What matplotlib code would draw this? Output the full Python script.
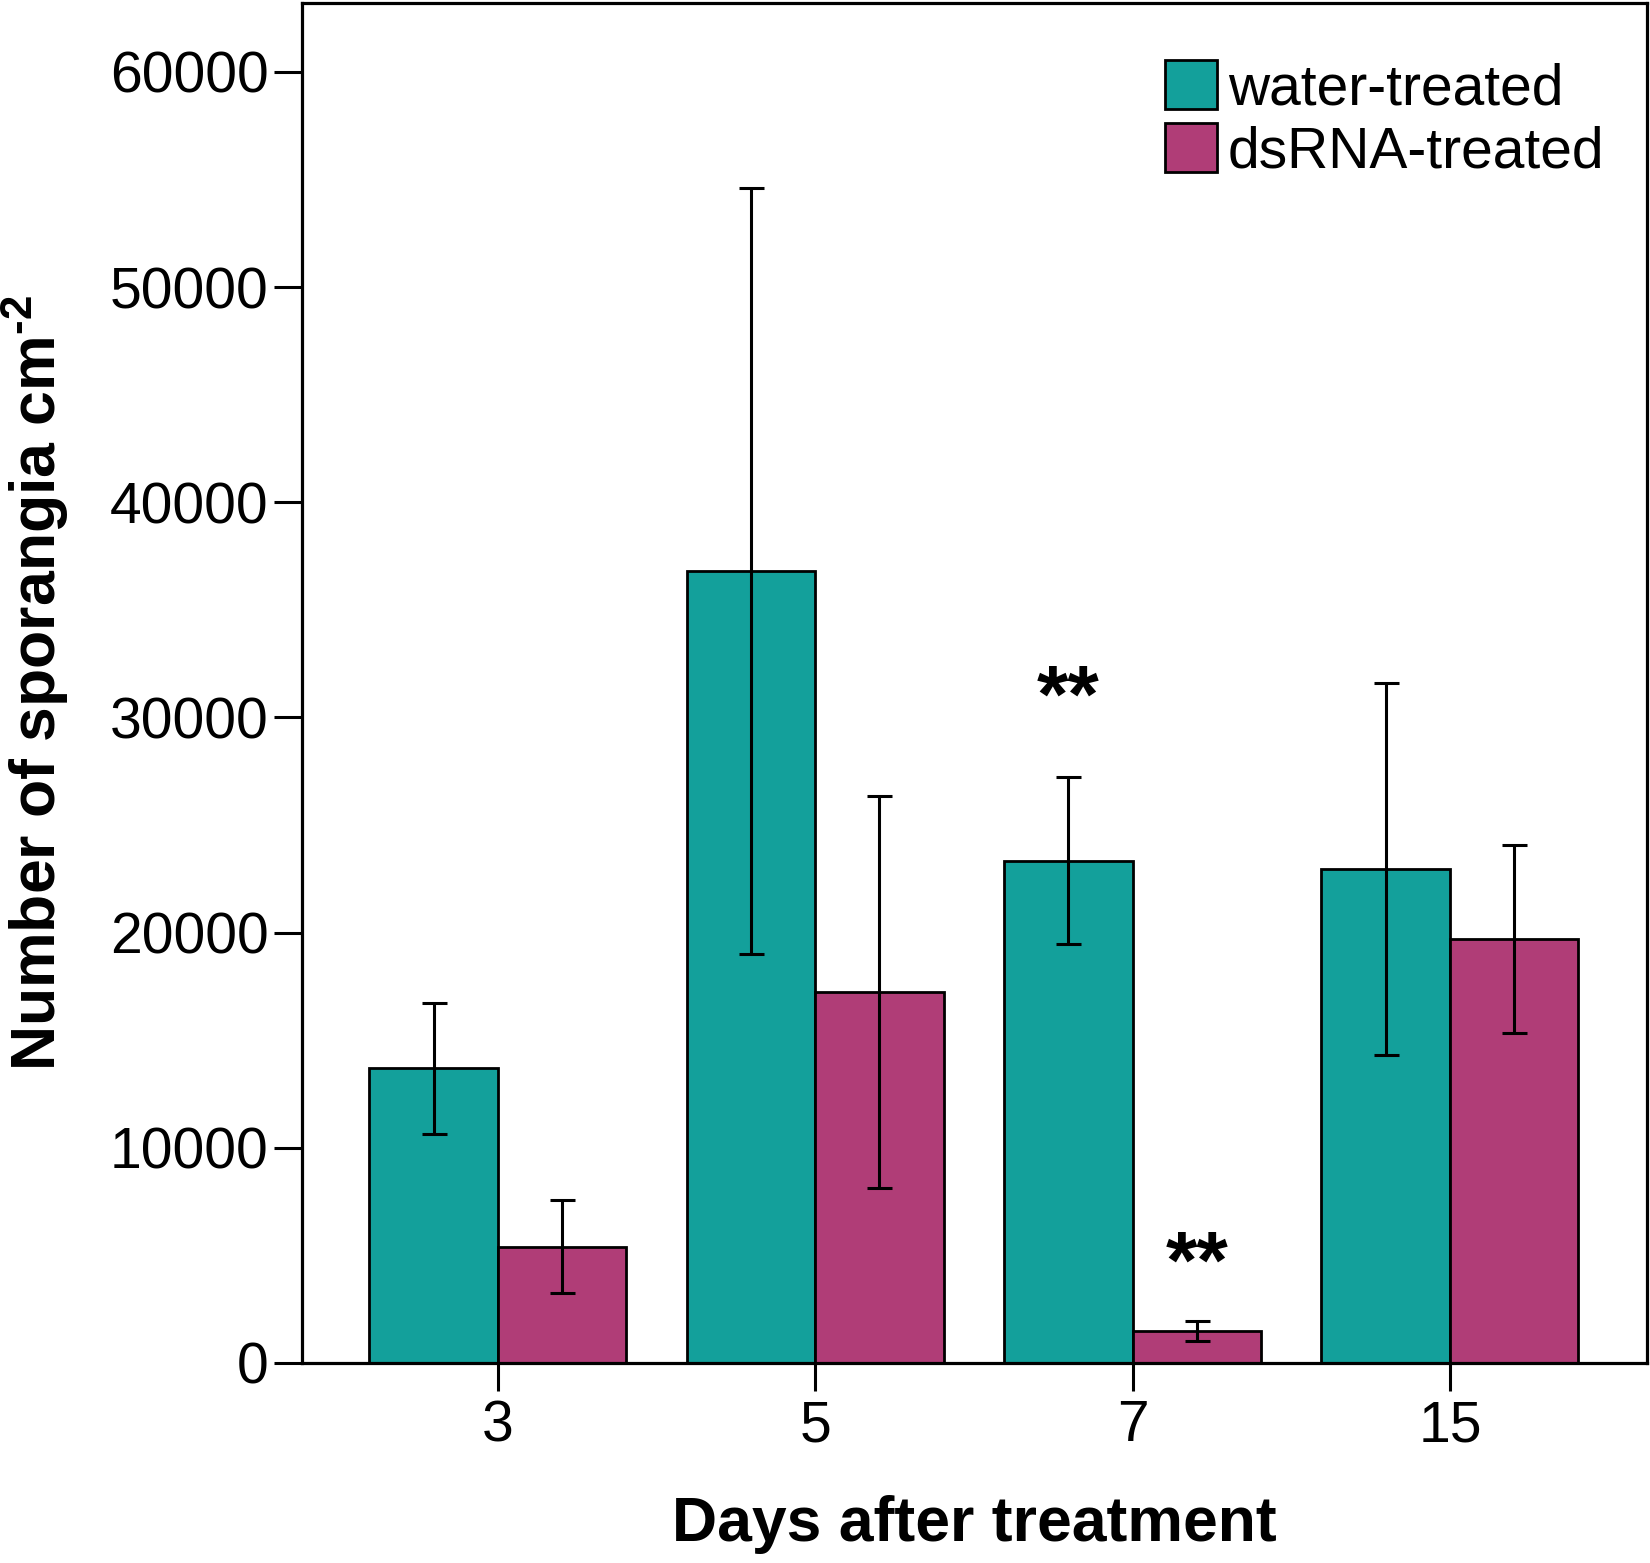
import numpy as np
import matplotlib
matplotlib.use("Agg")
import matplotlib.pyplot as plt

plt.rcParams['font.family'] = ['Liberation Sans', 'DejaVu Sans']
plt.rcParams['mathtext.fontset'] = 'custom'
plt.rcParams['mathtext.rm'] = 'Liberation Sans'
plt.rcParams['mathtext.bf'] = 'Liberation Sans:bold'

# data
days = ['3', '5', '7', '15']
water = [13700, 36800, 23350, 22950]
water_err = [3050, 17800, 3900, 8650]
dsrna = [5400, 17250, 1480, 19700]
dsrna_err = [2150, 9100, 450, 4350]
# significance marks: (group index, series, y position)
stars = [(2, 'water', 30800), (2, 'dsrna', 4500)]

teal = '#13a09b'
magenta = '#b03d77'

fig = plt.figure(figsize=(16.5, 15.63), dpi=100)
ax = fig.add_axes([0.183, 0.128, 0.815, 0.870])

x = np.arange(len(days))
w = 0.405
err_kw = dict(ecolor='black', elinewidth=2.2, capsize=9, capthick=2.2)
ax.bar(x - w / 2, water, w, yerr=water_err, color=teal, edgecolor='black',
       linewidth=2.0, label='water-treated', error_kw=err_kw)
ax.bar(x + w / 2, dsrna, w, yerr=dsrna_err, color=magenta, edgecolor='black',
       linewidth=2.0, label='dsRNA-treated', error_kw=err_kw)

for i, s, yv in stars:
    xp = x[i] - w / 2 if s == 'water' else x[i] + w / 2
    ax.text(xp, yv, '**', ha='center', va='center', fontsize=58, fontweight='bold')

ax.set_xlim(-0.617, 3.62)
ax.set_ylim(0, 63200)
ax.set_xticks(x)
ax.set_xticklabels(days)
ax.set_yticks(np.arange(0, 60001, 10000))

for sp in ax.spines.values():
    sp.set_linewidth(2.3)
ax.tick_params(axis='both', direction='out', length=20, width=2.2, labelsize=41)
ax.tick_params(axis='y', pad=4)
ax.tick_params(axis='x', pad=6)

ax.set_xlabel('Days after treatment', fontsize=45, fontweight='bold', labelpad=30)
ax.set_ylabel('Number of sporangia cm$^{\\mathbf{\u2010}\\mathbf{2}}$', fontsize=45,
              fontweight='bold', labelpad=28)

ax.legend(loc='upper left', bbox_to_anchor=(0.642, 0.958), frameon=False,
          fontsize=41, handlelength=0.9, handleheight=0.95, handletextpad=0.2,
          labelspacing=0.12, borderpad=0, borderaxespad=0)

fig.savefig('out.png', dpi=100)
